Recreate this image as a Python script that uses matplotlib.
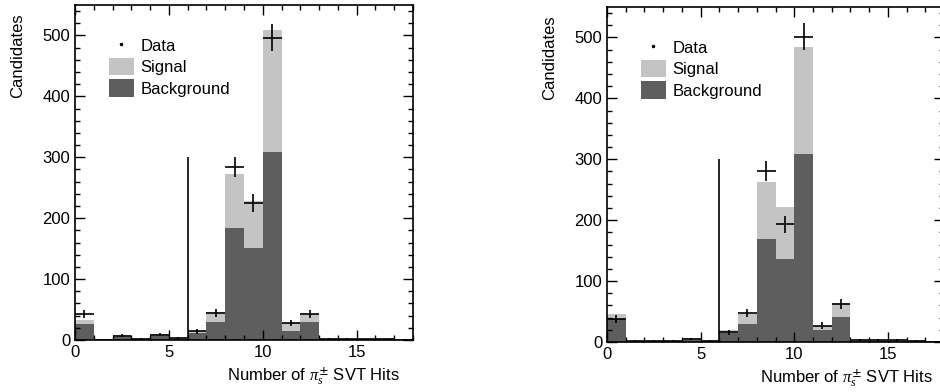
import matplotlib.pyplot as plt
from matplotlib.patches import Patch
from matplotlib.lines import Line2D
from matplotlib.ticker import MultipleLocator
import numpy as np

plt.rcParams['font.family'] = ['Liberation Sans', 'DejaVu Sans']
plt.rcParams['mathtext.fontset'] = 'custom'
plt.rcParams['mathtext.it'] = 'Liberation Serif:italic'

bin_edges = np.arange(0, 18)  # left edges, width 1

# left panel
left_total = [33, 0, 8, 2, 10, 3, 15, 46, 273, 228, 509, 28, 42, 2, 2, 1, 1, 0]
left_bkg = [27, 0, 5, 1, 7, 2, 12, 30, 184, 151, 309, 15, 30, 1, 1, 1, 0, 0]
left_data = [43, 0, 7, 2, 9, 3, 14, 44, 284, 225, 496, 28, 43, 2, 2, 1, 1, 0]

# right panel
right_total = [46, 2, 2, 2, 6, 2, 20, 46, 262, 221, 485, 27, 64, 3, 3, 3, 2, 0]
right_bkg = [38, 1, 1, 1, 4, 1, 15, 30, 169, 137, 309, 19, 41, 2, 2, 2, 1, 0]
right_data = [38, 2, 2, 2, 5, 2, 16, 48, 281, 193, 501, 27, 62, 3, 3, 3, 2, 0]

spike_x = 6
spike_top = 300

sig_color = '#c4c4c4'
bkg_color = '#5e5e5e'


def draw_panel(ax, total, bkg, data, xlab_x):
    total = np.array(total, float)
    bkg = np.array(bkg, float)
    data = np.array(data, float)
    ax.bar(bin_edges, bkg, width=1, align='edge', color=bkg_color, lw=0)
    ax.bar(bin_edges, total - bkg, bottom=bkg, width=1, align='edge',
           color=sig_color, lw=0)
    ax.vlines(spike_x, 0, spike_top, color='black', lw=1.2)
    ax.errorbar(bin_edges + 0.5, data, xerr=0.5, yerr=np.sqrt(data),
                fmt='none', ecolor='black', elinewidth=1.2, capsize=0)
    ax.set_xlim(0, 18)
    ax.set_ylim(0, 550)
    ax.xaxis.set_major_locator(MultipleLocator(5))
    ax.xaxis.set_minor_locator(MultipleLocator(1))
    ax.yaxis.set_major_locator(MultipleLocator(100))
    ax.yaxis.set_minor_locator(MultipleLocator(20))
    ax.tick_params(which='both', direction='in', top=True, right=True,
                   labelsize=12, width=1)
    ax.tick_params(which='major', length=7)
    ax.tick_params(which='minor', length=3.5)
    for s in ax.spines.values():
        s.set_linewidth(1.2)
    ax.set_ylabel('Candidates', fontsize=12, loc='top')
    ax.yaxis.set_label_coords(-0.147, 0.975)
    ax.set_xlabel(r'Number of $\pi_s^{\pm}$ SVT Hits', fontsize=12, ha='right')
    ax.xaxis.set_label_coords(xlab_x, -0.075)
    ax.xaxis.label.set_va('top')
    handles = [Line2D([], [], marker='.', ms=3, ls='none', color='black'),
               Patch(facecolor=sig_color, edgecolor='none'),
               Patch(facecolor=bkg_color, edgecolor='none')]
    ax.legend(handles, ['Data', 'Signal', 'Background'], loc='upper left',
              bbox_to_anchor=(0.08, 0.925), frameon=False, fontsize=12,
              handlelength=1.5, handleheight=1.2, handletextpad=0.4,
              labelspacing=0.25, borderaxespad=0)


fig = plt.figure(figsize=(9.4, 3.92), dpi=100)
ax1 = fig.add_axes([75 / 940, 52 / 392, 338 / 940, 335 / 392])
ax2 = fig.add_axes([607 / 940, 50 / 392, 337 / 940, 335 / 392])
draw_panel(ax1, left_total, left_bkg, left_data, 0.96)
draw_panel(ax2, right_total, right_bkg, right_data, 0.967)

fig.savefig('out.png', dpi=100)
